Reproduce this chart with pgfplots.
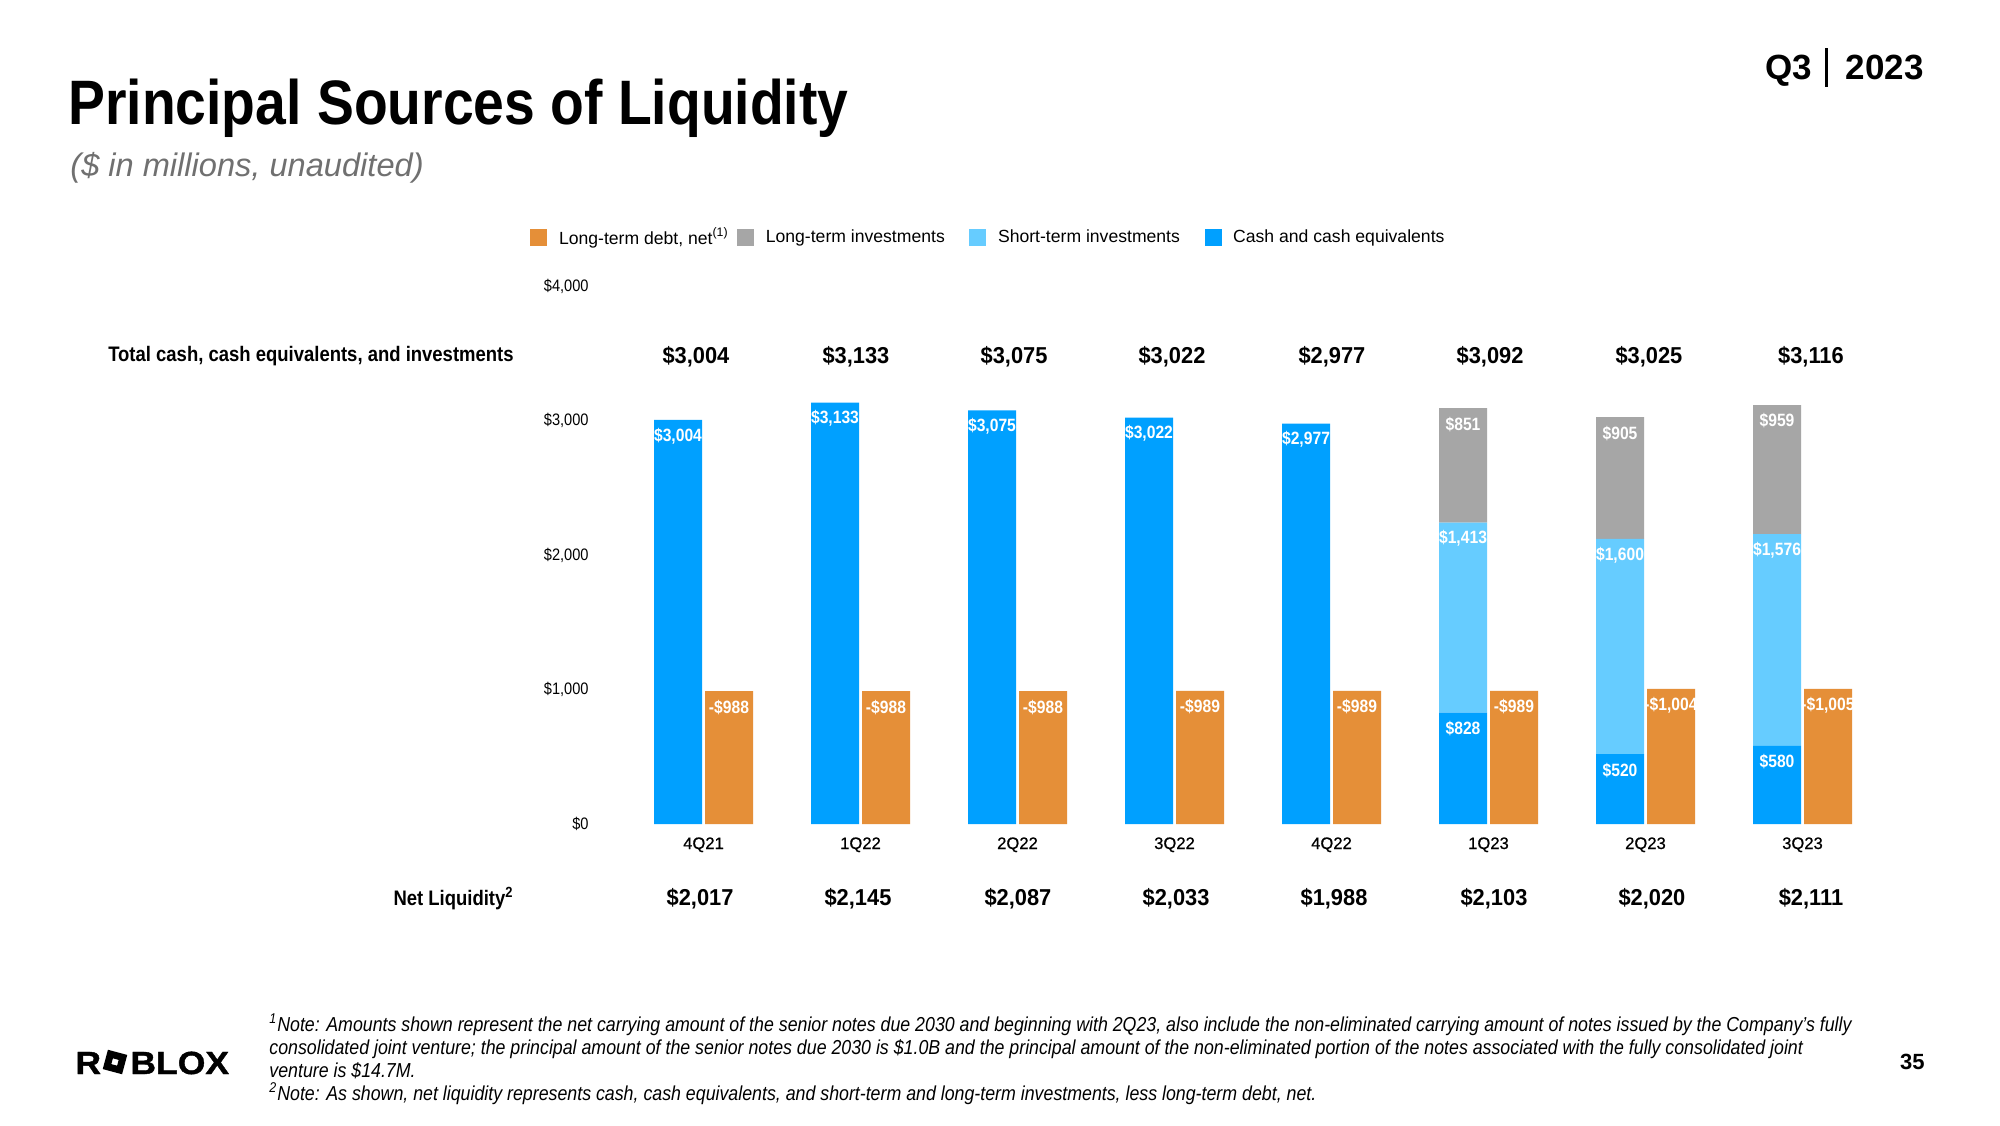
\documentclass[border=0pt]{standalone}
\usepackage{pgfplots}
\pgfplotsset{compat=1.18}
\usepackage{fontspec}
\setmainfont{Liberation Sans}
\newfontfamily\cond[FakeStretch=0.88]{Liberation Sans}
\newfontfamily\semicond[FakeStretch=0.95]{Liberation Sans}
\newfontfamily\medium[FakeBold=0.6]{Liberation Sans}
\newfontfamily\logofont[FakeStretch=1.11, FakeBold=1.2]{Liberation Sans}
\definecolor{cashblue}{RGB}{0,160,255}
\definecolor{stblue}{RGB}{102,204,255}
\definecolor{ltgray}{RGB}{166,166,166}
\definecolor{debtorange}{RGB}{229,143,56}
\definecolor{subgray}{RGB}{112,112,112}

\begin{document}
\begin{tikzpicture}
\path[use as bounding box, fill=white] (0,0) rectangle (1000pt,562.5pt);
% header
\node[anchor=base west, inner sep=0pt, font=\cond\bfseries\fontsize{31.4}{36}\selectfont] at (34pt,500pt) {Principal Sources of Liquidity};
\node[anchor=base west, inner sep=0pt, text=subgray, font=\itshape\fontsize{16.3}{19}\selectfont] at (35pt,474pt) {(\$ in millions, unaudited)};
\node[anchor=base west, inner sep=0pt, font=\bfseries\fontsize{17.5}{20}\selectfont] at (882.5pt,522.5pt) {Q3};
\draw[line width=1.5pt] (913pt,519pt) -- (913pt,538.5pt);
\node[anchor=base east, inner sep=0pt, font=\bfseries\fontsize{17.5}{20}\selectfont] at (962pt,522.5pt) {2023};
% row labels
\node[anchor=base east, inner sep=0pt, font=\cond\bfseries\fontsize{10.5}{12}\selectfont] at (257pt,381.5pt) {Total cash, cash equivalents, and investments};
\node[anchor=base east, inner sep=0pt, font=\cond\bfseries\fontsize{10.5}{12}\selectfont] at (257pt,110pt) {Net Liquidity\textsuperscript{2}};
% footnotes
\begin{scope}[every node/.style={anchor=base west, inner sep=0pt, font=\cond\itshape\fontsize{10.1}{12}\selectfont}]
\node at (134.5pt,47pt) {\textsuperscript{1}Note: Amounts shown represent the net carrying amount of the senior notes due 2030 and beginning with 2Q23, also include the non-eliminated carrying amount of notes issued by the Company’s fully};
\node at (134.5pt,35.5pt) {consolidated joint venture; the principal amount of the senior notes due 2030 is \$1.0B and the principal amount of the non-eliminated portion of the notes associated with the fully consolidated joint};
\node at (134.5pt,24pt) {venture is \$14.7M.};
\node at (134.5pt,12.5pt) {\textsuperscript{2}Note: As shown, net liquidity represents cash, cash equivalents, and short-term and long-term investments, less long-term debt, net.};
\end{scope}
% logo and page number
\node[anchor=base west, inner sep=0pt, font=\logofont\bfseries\fontsize{16}{18}\selectfont] at (37.5pt,25.5pt) {R};
\fill[even odd rule, rotate around={-15:(57.5pt,31.5pt)}] (52.5pt,26.5pt) rectangle (62.5pt,36.5pt) (56pt,30pt) rectangle (59pt,33pt);
\node[anchor=base west, inner sep=0pt, font=\logofont\bfseries\fontsize{16}{18}\selectfont] at (65pt,25.5pt) {BLOX};
\node[anchor=base east, inner sep=0pt, font=\bfseries\fontsize{11}{13}\selectfont] at (962.5pt,28pt) {35};

% stacked asset bars
\begin{axis}[
  at={(312.5pt,150.5pt)}, anchor=south west,
  scale only axis, width=628pt, height=269pt,
  xmin=-0.5, xmax=7.5, ymin=0, ymax=4000,
  ybar stacked, bar width=0.3057, bar shift=-0.1624,
  axis line style={draw=none}, tick style={draw=none},
  xtick={0,...,7}, xticklabels={4Q21,1Q22,2Q22,3Q22,4Q22,1Q23,2Q23,3Q23},
  ytick={0,1000,2000,3000,4000},
  yticklabels={\$0,{\$1,000},{\$2,000},{\$3,000},{\$4,000}},
  xticklabel style={anchor=base, yshift=-12.5pt, font=\medium\fontsize{8.3}{10}\selectfont},
  yticklabel style={anchor=east, inner sep=0pt, xshift=-18pt, font=\cond\fontsize{8.3}{9}\selectfont},
  clip=false,
]
\addplot[fill=cashblue, draw=none] coordinates {
 (0,3004) (1,3133) (2,3075) (3,3022) (4,2977) (5,828) (6,520) (7,580)};
\addplot[fill=stblue, draw=none] coordinates {
 (0,0) (1,0) (2,0) (3,0) (4,0) (5,1413) (6,1600) (7,1576)};
\addplot[fill=ltgray, draw=none] coordinates {
 (0,0) (1,0) (2,0) (3,0) (4,0) (5,851) (6,905) (7,959)};
\end{axis}

% debt bars, value labels, legend, rows of totals
\begin{axis}[
  at={(312.5pt,150.5pt)}, anchor=south west,
  scale only axis, width=628pt, height=269pt,
  xmin=-0.5, xmax=7.5, ymin=0, ymax=4000,
  ybar, bar width=0.3057, bar shift=0.1624,
  axis line style={draw=none}, tick style={draw=none},
  xtick=\empty, ytick=\empty,
  nodes near coords, point meta=explicit symbolic,
  every node near coord/.append style={anchor=center, yshift=-8pt, text=white, font=\cond\bfseries\fontsize{8.9}{10}\selectfont},
  clip=false,
  legend style={at={(-0.0804,1.0903)}, anchor=west, draw=none, fill=none,
    legend columns=-1, font=\fontsize{8.8}{10}\selectfont,
    /tikz/every odd column/.append style={column sep=3.8pt},
    /tikz/every even column/.append style={column sep=10.3pt}},
  legend image code/.code={\fill[#1] (0pt,-4.25pt) rectangle (8.5pt,4.25pt);},
]
\addplot[fill=debtorange, draw=none] coordinates {
 (0,988)[-\$988] (1,988)[-\$988] (2,988)[-\$988] (3,989)[-\$989]
 (4,989)[-\$989] (5,989)[-\$989] (6,1004)[-\$1,004] (7,1005)[-\$1,005]};
\addlegendentry{Long-term debt, net\rlap{\textsuperscript{(1)}}}
\addlegendimage{fill=ltgray, draw=none}
\addlegendentry{Long-term investments}
\addlegendimage{fill=stblue, draw=none}
\addlegendentry{Short-term investments}
\addlegendimage{fill=cashblue, draw=none}
\addlegendentry{Cash and cash equivalents}
% labels at the top of each stacked segment (tops of the segments)
\addplot[forget plot, draw=none, fill=none, bar shift=-0.1624] coordinates {
 (0,3004)[\$3,004] (1,3133)[\$3,133] (2,3075)[\$3,075] (3,3022)[\$3,022]
 (4,2977)[\$2,977] (5,828)[\$828] (6,520)[\$520] (7,580)[\$580]};
\addplot[forget plot, draw=none, fill=none, bar shift=-0.1624] coordinates {
 (5,2241)[\$1,413] (6,2120)[\$1,600] (7,2156)[\$1,576]};
\addplot[forget plot, draw=none, fill=none, bar shift=-0.1624] coordinates {
 (5,3092)[\$851] (6,3025)[\$905] (7,3115)[\$959]};
% totals row and net liquidity row
\begin{scope}[every node/.style={anchor=base, inner sep=0pt, font=\semicond\bfseries\fontsize{11.5}{13}\selectfont}]
\node at (axis cs:-0.048,3425) {\$3,004};
\node at (axis cs:0.971,3425) {\$3,133};
\node at (axis cs:1.978,3425) {\$3,075};
\node at (axis cs:2.984,3425) {\$3,022};
\node at (axis cs:4.003,3425) {\$2,977};
\node at (axis cs:5.010,3425) {\$3,092};
\node at (axis cs:6.022,3425) {\$3,025};
\node at (axis cs:7.054,3425) {\$3,116};
\node at (axis cs:-0.022,-606) {\$2,017};
\node at (axis cs:0.984,-606) {\$2,145};
\node at (axis cs:2.003,-606) {\$2,087};
\node at (axis cs:3.010,-606) {\$2,033};
\node at (axis cs:4.016,-606) {\$1,988};
\node at (axis cs:5.035,-606) {\$2,103};
\node at (axis cs:6.041,-606) {\$2,020};
\node at (axis cs:7.054,-606) {\$2,111};
\end{scope}
\end{axis}
\end{tikzpicture}
\end{document}
